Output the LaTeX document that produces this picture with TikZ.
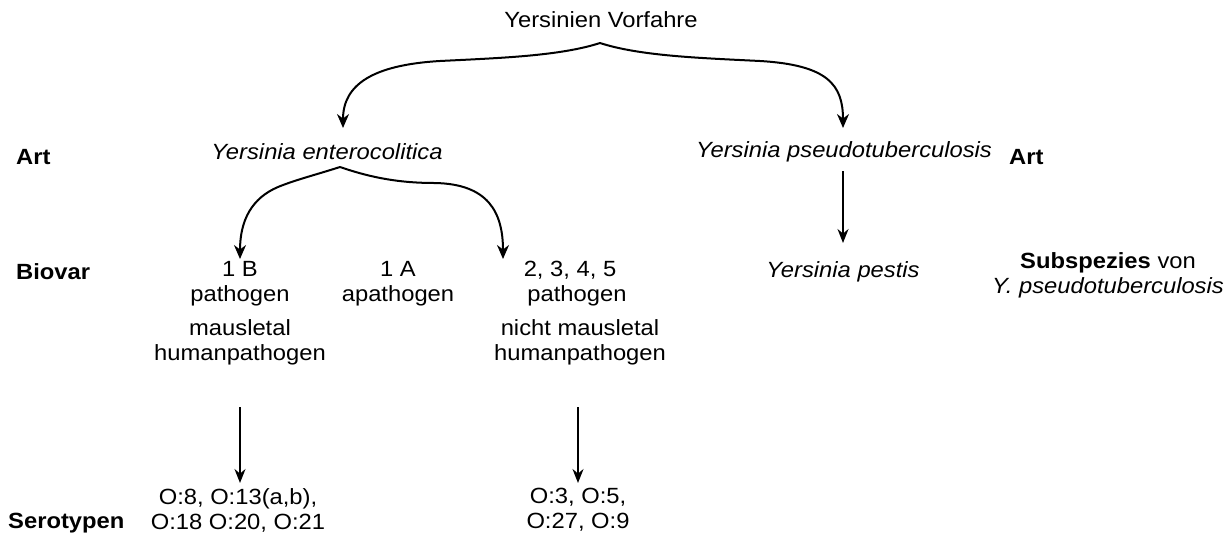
\documentclass[tikz,border=0pt]{standalone}
\usepackage{fontspec}
\setmainfont{Liberation Sans}[FakeStretch=1.08]
\usetikzlibrary{arrows.meta}
\begin{document}
\begin{tikzpicture}[x=1pt,y=-1pt,
  lbl/.style={font=\fontsize{22}{25}\selectfont, inner sep=0pt, align=center},
  side/.style={lbl, font=\fontsize{22}{25}\selectfont\bfseries},
  conn/.style={line width=2pt, -{Stealth[length=14pt,width=12pt]}},
  sconn/.style={line width=1.6pt, -{Stealth[length=14pt,width=11pt]}}]
\useasboundingbox (0,0) rectangle (1232,547);
% texts
\node[lbl] (root) at (601,20) {Yersinien Vorfahre};
\node[side, anchor=west] (artl) at (16,157) {Art};
\node[side, anchor=west] (artr) at (1009,157) {Art};
\node[lbl, font=\fontsize{22}{25}\selectfont\itshape] (ye) at (327,152) {Yersinia enterocolitica};
\node[lbl, font=\fontsize{22}{25}\selectfont\itshape] (yp) at (844,152) {Yersinia pseudotuberculosis};
\node[side, anchor=west] (biovar) at (16,272) {Biovar};
\node[lbl] (b1b) at (240,284) {1 B\\pathogen};
\node[lbl] (b1a) at (398,284) {1 A\\apathogen};
\node[lbl] (b2) at (570,284) {2, 3, 4, 5\\\hspace*{14pt}pathogen};
\node[lbl, font=\fontsize{22}{25}\selectfont\itshape] (ypest) at (843,272) {Yersinia pestis};
\node[lbl] (subsp) at (1108,275) {\textbf{Subspezies} von\\\textit{Y. pseudotuberculosis}};
\node[lbl] (m1) at (240,342) {mausletal\\humanpathogen};
\node[lbl] (m2) at (580,342) {nicht mausletal\\humanpathogen};
\node[side, anchor=west] (sero) at (8,523) {Serotypen};
\node[lbl] (s1) at (238,510) {O:8, O:13(a,b),\\O:18 O:20, O:21};
\node[lbl] (s2) at (578,510) {O:3, O:5,\\O:27, O:9};
% connector points
\coordinate (ta) at (600,43);
\coordinate (tl) at (343,128);
\coordinate (tr) at (843,128);
\coordinate (ma) at (340,167);
\coordinate (ml) at (240,259);
\coordinate (mr) at (503,259);
\coordinate (ps) at (843,171);
\coordinate (pe) at (843,243);
\coordinate (a1s) at (240,407);
\coordinate (a1e) at (240,483);
\coordinate (a2s) at (578,407);
\coordinate (a2e) at (578,483);
% connectors
\draw[conn] (ta) .. controls (560,56) and (500,58) .. (440,61) .. controls (372,65) and (343,85) .. (tl);
\draw[conn] (ta) .. controls (640,56) and (700,58) .. (760,61) .. controls (828,65) and (843,85) .. (tr);
\draw[conn] (ma) .. controls (315,175) and (295,180) .. (278,187) .. controls (252,198) and (240,220) .. (ml);
\draw[conn] (ma) .. controls (372,178) and (400,183) .. (435,183) .. controls (488,184) and (503,212) .. (mr);
\draw[sconn] (ps) -- (pe);
\draw[sconn] (a1s) -- (a1e);
\draw[sconn] (a2s) -- (a2e);
\end{tikzpicture}
\end{document}
